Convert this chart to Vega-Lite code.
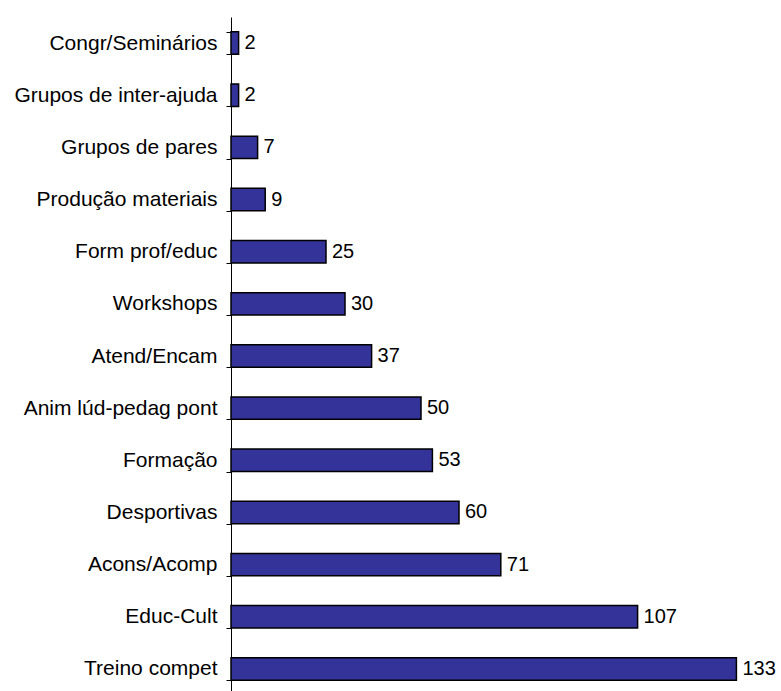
{
  "$schema": "https://vega.github.io/schema/vega-lite/v6.json",
  "autosize": "none",
  "width": 532,
  "height": 678,
  "padding": {"left": 231, "top": 17, "right": 18, "bottom": 0},
  "background": "white",
  "data": {"values": [
    {"cat": "Congr/Seminários", "v": 2},
    {"cat": "Grupos de inter-ajuda", "v": 2},
    {"cat": "Grupos de pares", "v": 7},
    {"cat": "Produção materiais", "v": 9},
    {"cat": "Form prof/educ", "v": 25},
    {"cat": "Workshops", "v": 30},
    {"cat": "Atend/Encam", "v": 37},
    {"cat": "Anim lúd-pedag pont", "v": 50},
    {"cat": "Formação", "v": 53},
    {"cat": "Desportivas", "v": 60},
    {"cat": "Acons/Acomp", "v": 71},
    {"cat": "Educ-Cult", "v": 107},
    {"cat": "Treino compet", "v": 133}
  ]},
  "config": {"view": {"stroke": null}, "font": "Liberation Sans"},
  "encoding": {
    "y": {"field": "cat", "type": "nominal", "sort": null,
      "scale": {"paddingInner": 0.57, "paddingOuter": 0.285},
      "axis": {"title": null, "tickBand": "extent", "domainColor": "black", "tickColor": "black",
        "tickSize": 5, "labelPadding": 9, "labelFontSize": 21, "labelColor": "black",
        "labelFont": "Liberation Sans", "domainWidth": 1, "tickWidth": 1, "labelLimit": 300}},
    "x": {"field": "v", "type": "quantitative", "scale": {"domain": [0, 140], "nice": false}, "axis": null}
  },
  "layer": [
    {"mark": {"type": "bar", "color": "#333399", "stroke": "black", "strokeWidth": 1.5}},
    {"mark": {"type": "text", "align": "left", "dx": 6, "fontSize": 20, "color": "black", "font": "Liberation Sans"},
     "encoding": {"text": {"field": "v", "type": "quantitative"}}}
  ]
}
